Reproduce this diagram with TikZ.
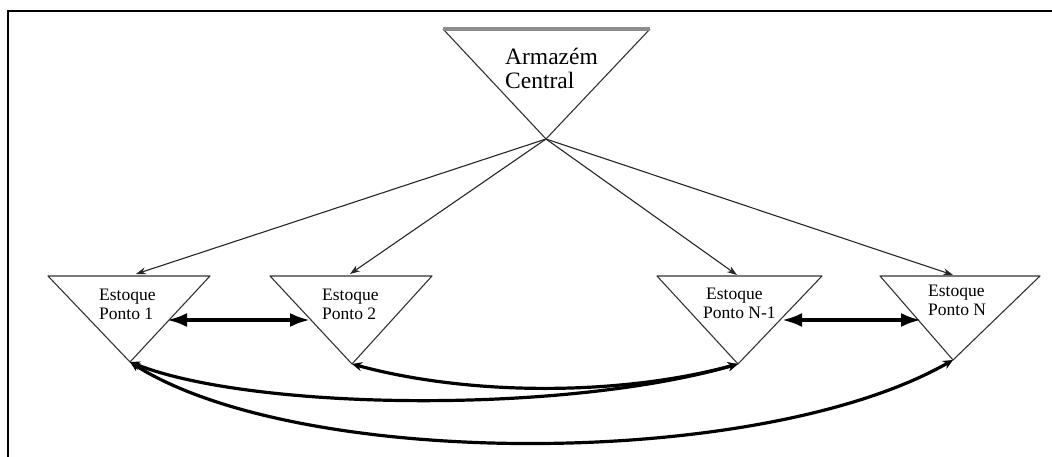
\documentclass[tikz,border=0pt]{standalone}
\usepackage{fontspec}
\setmainfont{Liberation Serif}
\usetikzlibrary{arrows.meta}

\tikzset{
  tri/.style={draw=black!80, line width=1.1pt, line join=round},
  feed/.style={draw=black!85, line width=1.1pt, -{Stealth[length=10pt,width=7pt]}},
  swap/.style={draw=black, line width=3.6pt, {Latex[length=20pt,width=14pt]}-{Latex[length=20pt,width=14pt]}},
  link/.style={draw=black, line width=3.2pt, {Stealth[length=10pt,width=9pt]}-{Stealth[length=10pt,width=9pt]}},
  bigtxt/.style={inner sep=0pt, align=left, font=\fontsize{23.5}{24}\selectfont},
  smalltxt/.style={inner sep=0pt, align=left, font=\fontsize{17.5}{19}\selectfont},
}

\begin{document}
\begin{tikzpicture}[x=1pt, y=-1pt]
\useasboundingbox (0,0) rectangle (1052,457);

% partial frame
\draw[line width=2.6pt, line cap=butt] (8,457) -- (8,11) -- (1052,11);

% central warehouse
\coordinate (cA) at (443,29);
\coordinate (cB) at (650,29);
\coordinate (cC) at (546,139);
\draw[tri] (cA) -- (cC) -- (cB);
\draw[line width=3.8pt, draw=black!45] (cA) -- (cB);
\node[bigtxt, anchor=base west] (central) at (505,89) {Armazém\\Central};

% stock points: top-left, top-right, apex
\foreach \n/\l/\r/\ax/\ay in {p1/48/210/130/362, p2/270/432/352/364, p3/657/822/738/364, p4/880/1040/953/360}{
  \coordinate (\n l) at (\l,276);
  \coordinate (\n r) at (\r,276);
  \coordinate (\n a) at (\ax,\ay);
  \draw[tri] (\n l) -- (\n r) -- (\n a) -- cycle;
}
\coordinate (p1t) at (136,274);
\coordinate (p2t) at (350,274);
\coordinate (p3t) at (737,275);
\coordinate (p4t) at (953,275);

\node[smalltxt, anchor=base west] (s1) at (99,319) {Estoque\\Ponto 1};
\node[smalltxt, anchor=base west] (s2) at (322,319) {Estoque\\Ponto 2};
\node[smalltxt, anchor=base west] (s3) at (703,318) {\hspace*{3pt}Estoque\\Ponto N-1};
\node[smalltxt, anchor=base west] (s4) at (928,315) {Estoque\\Ponto N};

% supply from the central warehouse
\foreach \n in {p1,p2,p3,p4}{
  \draw[feed] (cC) -- (\n t);
}

% exchanges between neighbouring points
\coordinate (h1a) at (167,320);
\coordinate (h1b) at (310,320);
\coordinate (h2a) at (782,320);
\coordinate (h2b) at (921,320);
\draw[swap] (h1a) -- (h1b);
\draw[swap] (h2a) -- (h2b);

% exchanges between distant points
\draw[link] (p2a) .. controls (470,396) and (620,396) .. (p3a);
\draw[link] (p1a) .. controls (250,410) and (560,415) .. (p3a);
\draw[link] (p1a) .. controls (300,470) and (760,470) .. (p4a);
\end{tikzpicture}
\end{document}
